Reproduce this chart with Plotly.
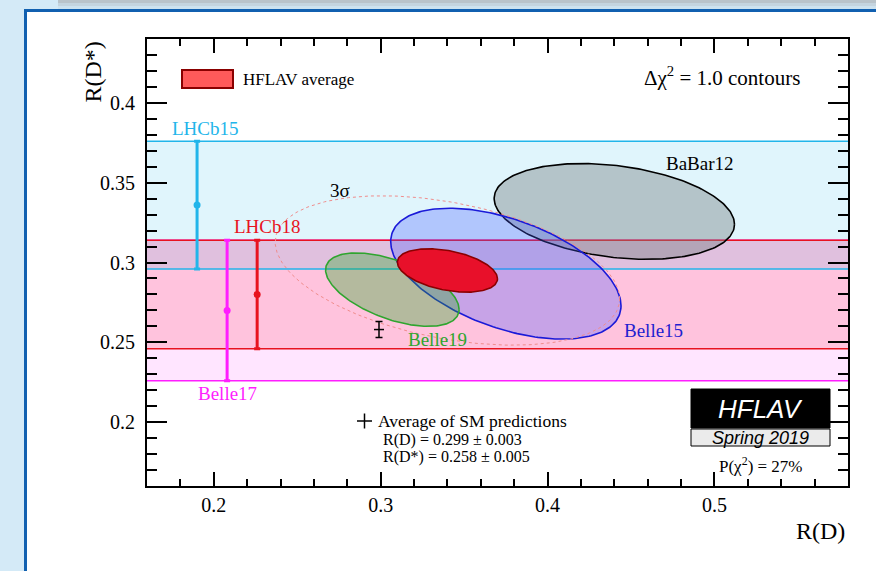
import numpy as np
import plotly.graph_objects as go

# ---- measurements (Delta chi^2 = 1 contours) ----
ell_names = ["BaBar12", "Belle15", "Belle19"]
ell_rd = [0.440, 0.375, 0.307]
ell_rd_err = [0.072, 0.069, 0.040]
ell_rds = [0.332, 0.293, 0.283]
ell_rds_err = [0.030, 0.041, 0.023]
ell_rho = [-0.27, -0.49, -0.54]
ell_line = ["black", "#1a1ad8", "#2fa52f"]
ell_fill = ["rgba(120,128,132,0.42)", "rgba(70,90,255,0.30)", "rgba(40,170,40,0.35)"]

# HFLAV average
avg_rd, avg_rd_err = 0.340, 0.030
avg_rds, avg_rds_err = 0.295, 0.0136
avg_rho = -0.38
dchi2_3sigma = 11.83

# R(D*)-only measurements drawn as bands
band_names = ["Belle17", "LHCb18", "LHCb15"]
band_val = [0.270, 0.280, 0.336]
band_err_up = [0.044, 0.034, 0.040]
band_err_dn = [0.044, 0.034, 0.040]
band_xpos = [0.208, 0.226, 0.190]
band_color = ["#ff1eff", "#e8131f", "#22b5ea"]
band_fill = ["rgba(255,0,255,0.10)", "rgba(255,0,20,0.145)", "rgba(0,172,230,0.12)"]

# SM prediction average
sm_rd, sm_rd_err = 0.299, 0.003
sm_rds, sm_rds_err = 0.258, 0.005

XR = [0.16, 0.58]
YR = [0.16, 0.44]

W, H = 876, 571
L, R, T, B = 147, 28, 39, 85
PW, PH = W - L - R, H - T - B


def px(x, y):
    """pixel position -> paper coordinates"""
    return (x - L) / PW, (H - B - y) / PH


def ellipse(cx, sx, cy, sy, rho, k=1.0, n=240):
    t = np.linspace(0, 2 * np.pi, n)
    x = cx + k * sx * np.cos(t)
    y = cy + k * sy * (rho * np.cos(t) + np.sqrt(1 - rho ** 2) * np.sin(t))
    return x, y


SERIF = "Liberation Serif"
SANS = "Liberation Sans"

fig = go.Figure()
shapes = []
ann = []


def note(text, x, y, size, color="black", family=SERIF, xanchor="center", ref="paper", **kw):
    if ref == "paper":
        x, y = px(x, y)
        xr, yr = "paper", "paper"
    else:
        xr, yr = "x", "y"
    ann.append(dict(text=text, x=x, y=y, xref=xr, yref=yr, showarrow=False,
                    xanchor=xanchor, yanchor=kw.pop("yanchor", "middle"),
                    font=dict(family=family, size=size, color=color), **kw))


def prect(x0, y0, x1, y1, **kw):
    a0, b0 = px(x0, y0)
    a1, b1 = px(x1, y1)
    shapes.append(dict(type="rect", xref="paper", yref="paper", x0=a0, y0=b0, x1=a1, y1=b1, **kw))


def pline(x0, y0, x1, y1, **kw):
    a0, b0 = px(x0, y0)
    a1, b1 = px(x1, y1)
    shapes.append(dict(type="line", xref="paper", yref="paper", x0=a0, y0=b0, x1=a1, y1=b1, **kw))


# page frame: light blue page, white panel with a dark blue border
prect(-10, -10, W + 10, H + 10, fillcolor="#d4eaf7", line=dict(width=0), layer="below")
for (ya, yb, c) in [(0, 3, "#b9c3ca"), (3, 6, "#c4d4df"), (6, 9, "#cde2ef")]:
    prect(58, ya, W + 10, yb, fillcolor=c, line=dict(width=0), layer="below")
prect(25.5, 10.5, W + 20, H + 20, fillcolor="white", line=dict(color="#1160b0", width=3),
      layer="below")

# R(D*) bands
for v, up, dn, col, fill in zip(band_val, band_err_up, band_err_dn, band_color, band_fill):
    shapes.append(dict(type="rect", xref="x", yref="y", x0=XR[0], x1=XR[1], y0=v - dn, y1=v + up,
                       fillcolor=fill, line=dict(width=0), layer="below"))
for v, up, dn, col in zip(band_val, band_err_up, band_err_dn, band_color):
    for yy in (v - dn, v + up):
        shapes.append(dict(type="line", xref="x", yref="y", x0=XR[0], x1=XR[1], y0=yy, y1=yy,
                           line=dict(color=col, width=1.5), layer="below"))

# vertical error bars for the bands
for v, up, dn, xp, col in zip(band_val, band_err_up, band_err_dn, band_xpos, band_color):
    fig.add_trace(go.Scatter(
        x=[xp], y=[v], mode="markers",
        marker=dict(color=col, size=7),
        error_y=dict(type="data", symmetric=False, array=[up], arrayminus=[dn],
                     color=col, thickness=3, width=3),
        showlegend=False, hoverinfo="skip"))

# measurement ellipses
for cx, sx, cy, sy, rho, lc, fc in zip(ell_rd, ell_rd_err, ell_rds, ell_rds_err, ell_rho,
                                        ell_line, ell_fill):
    ex, ey = ellipse(cx, sx, cy, sy, rho)
    fig.add_trace(go.Scatter(x=ex, y=ey, mode="lines", fill="toself", fillcolor=fc,
                             line=dict(color=lc, width=1.6), showlegend=False, hoverinfo="skip"))

# HFLAV average, 1 sigma and 3 sigma
ex, ey = ellipse(avg_rd, avg_rd_err, avg_rds, avg_rds_err, avg_rho)
fig.add_trace(go.Scatter(x=ex, y=ey, mode="lines", fill="toself", fillcolor="#e8102a",
                         line=dict(color="#8a0000", width=1.6), showlegend=False, hoverinfo="skip"))
ex, ey = ellipse(avg_rd, avg_rd_err, avg_rds, avg_rds_err, avg_rho, k=np.sqrt(dchi2_3sigma))
fig.add_trace(go.Scatter(x=ex, y=ey, mode="lines", line=dict(color="#f08c8c", width=1, dash="dot"),
                         showlegend=False, hoverinfo="skip"))

# SM prediction
fig.add_trace(go.Scatter(
    x=[sm_rd], y=[sm_rds], mode="markers", marker=dict(size=1, color="black"),
    error_x=dict(type="data", array=[sm_rd_err], color="black", thickness=1.5, width=0),
    error_y=dict(type="data", array=[sm_rds_err], color="black", thickness=1.5, width=3.5),
    showlegend=False, hoverinfo="skip"))

# data labels
labels = [
    ("LHCb15", 0.1953, 0.3842, band_color[2]),
    ("LHCb18", 0.2319, 0.3228, band_color[1]),
    ("Belle17", 0.2085, 0.2182, band_color[0]),
    ("BaBar12", 0.4913, 0.3623, "black"),
    ("Belle15", 0.4632, 0.2577, "#1f1fd0"),
    ("Belle19", 0.3338, 0.2520, "#2fa52f"),
    ("3σ", 0.2756, 0.3454, "black"),
]
for t, x, y, c in labels:
    note(t, x, y, 19, color=c, ref="data")

# legend box
prect(182, 70, 233, 88, fillcolor="#ff5a5a", line=dict(color="#8a0000", width=2))
note("HFLAV average", 241, 79, 17, xanchor="left")
note("Δχ<sup>2</sup> = 1.0 contours", 802, 77, 21, xanchor="right")

# SM legend
pline(357, 421, 372, 421, line=dict(color="black", width=1.5))
pline(364.5, 413.5, 364.5, 428.5, line=dict(color="black", width=1.5))
note("Average of SM predictions", 376, 421, 17.5, xanchor="left")
note(f"R(D) = {sm_rd:.3f} ± {sm_rd_err:.3f}", 381, 440, 16, xanchor="left")
note(f"R(D*) = {sm_rds:.3f} ± {sm_rds_err:.3f}", 381, 457, 16, xanchor="left")

# HFLAV logo
prect(691, 389, 830, 428, fillcolor="black", line=dict(color="black", width=1))
prect(691, 429, 830, 446, fillcolor="#ebebeb", line=dict(color="black", width=1))
note("<i>HFLAV</i>", 760, 409, 26, color="white", family=SANS)
note("<i>Spring 2019</i>", 760, 438, 18, family=SANS)
note("P(χ<sup>2</sup>) = 27%", 761, 465, 17)

# axis titles
note("R(D)", 847, 531, 24, xanchor="right")
note("R(D*)", 92, 40, 24, textangle=-90, yanchor="top")

axis_common = dict(showgrid=False, zeroline=False, showline=True, linecolor="black", linewidth=2,
                   mirror="allticks", ticks="inside", tickcolor="black", tickwidth=1.5,
                   tickfont=dict(family=SERIF, size=20, color="black"))

fig.update_layout(
    width=W, height=H,
    margin=dict(l=L, r=R, t=T, b=B),
    paper_bgcolor="#d4eaf7",
    plot_bgcolor="rgba(0,0,0,0)",
    shapes=shapes,
    annotations=ann,
    xaxis=dict(range=XR, tickvals=[0.2, 0.3, 0.4, 0.5], ticktext=["0.2", "0.3", "0.4", "0.5"],
               ticklen=14, minor=dict(dtick=0.02, tick0=0.2, ticklen=7, ticks="inside",
                                      tickcolor="black", tickwidth=1.5),
               **axis_common),
    yaxis=dict(range=YR, tickvals=[0.2, 0.25, 0.3, 0.35, 0.4],
               ticktext=["0.2", "0.25", "0.3", "0.35", "0.4"],
               ticklen=20, ticklabelstandoff=6,
               minor=dict(dtick=0.01, tick0=0.2, ticklen=10, ticks="inside",
                          tickcolor="black", tickwidth=1.5),
               **axis_common),
)

fig.write_html("out.html")
